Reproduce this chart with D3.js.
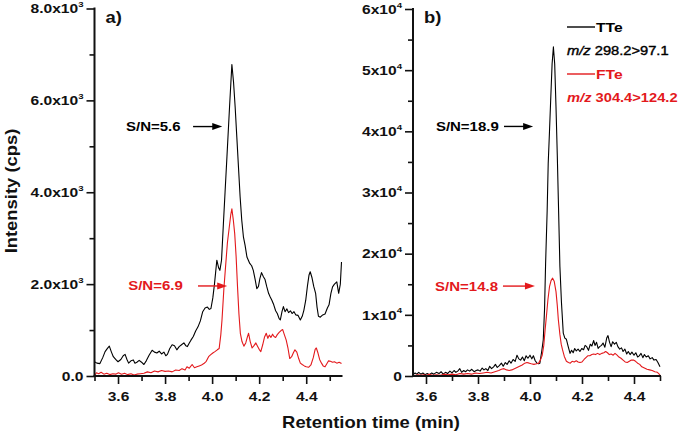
<!DOCTYPE html>
<html><head><meta charset="utf-8">
<script src="https://cdn.jsdelivr.net/npm/d3@7"></script>
<style>html,body{margin:0;padding:0;background:#fff;} svg{display:block;}</style>
</head><body><svg id="c" width="685" height="434"></svg>
<script>
// ---------- DATA ----------
// Panel a) intensity in 10^3 cps ; panel b) intensity in 10^4 cps ; time in min
const tteA = [[3.500,0.31],[3.510,0.28],[3.523,0.27],[3.535,0.40],[3.545,0.53],[3.555,0.60],[3.563,0.65],[3.572,0.52],[3.580,0.42],[3.590,0.36],[3.600,0.31],[3.612,0.36],[3.622,0.44],[3.630,0.47],[3.638,0.36],[3.645,0.28],[3.655,0.33],[3.665,0.35],[3.672,0.28],[3.680,0.30],[3.690,0.34],[3.700,0.30],[3.710,0.25],[3.720,0.33],[3.732,0.45],[3.745,0.56],[3.755,0.52],[3.765,0.50],[3.775,0.54],[3.785,0.48],[3.795,0.52],[3.803,0.44],[3.810,0.47],[3.820,0.60],[3.830,0.68],[3.840,0.66],[3.850,0.57],[3.860,0.64],[3.870,0.68],[3.880,0.72],[3.888,0.66],[3.895,0.64],[3.903,0.72],[3.910,0.78],[3.920,0.86],[3.930,0.98],[3.940,1.07],[3.950,1.20],[3.960,1.40],[3.970,1.48],[3.980,1.50],[3.988,1.45],[3.995,1.47],[4.003,1.70],[4.010,2.00],[4.020,2.52],[4.028,2.35],[4.033,2.30],[4.040,2.52],[4.048,3.32],[4.055,4.00],[4.063,4.77],[4.074,5.85],[4.084,6.78],[4.091,6.40],[4.098,5.85],[4.105,5.20],[4.112,4.55],[4.119,3.90],[4.126,3.39],[4.133,3.03],[4.140,2.85],[4.148,2.59],[4.154,2.52],[4.160,2.45],[4.168,2.40],[4.175,2.30],[4.183,2.10],[4.190,1.90],[4.197,1.95],[4.203,2.12],[4.210,2.25],[4.218,2.16],[4.225,2.10],[4.232,1.95],[4.240,1.80],[4.247,1.72],[4.254,1.65],[4.262,1.55],[4.270,1.42],[4.277,1.36],[4.285,1.25],[4.290,1.22],[4.297,1.40],[4.303,1.51],[4.310,1.40],[4.318,1.46],[4.325,1.38],[4.333,1.42],[4.340,1.36],[4.348,1.40],[4.356,1.33],[4.365,1.32],[4.375,1.22],[4.383,1.30],[4.390,1.43],[4.398,1.65],[4.405,1.95],[4.412,2.20],[4.417,2.27],[4.424,2.15],[4.432,1.95],[4.440,1.80],[4.446,1.50],[4.452,1.30],[4.460,1.28],[4.470,1.33],[4.480,1.35],[4.490,1.48],[4.497,1.55],[4.505,1.80],[4.512,1.94],[4.520,2.00],[4.530,2.05],[4.538,1.80],[4.545,2.00],[4.550,2.48]];

const fteA = [[3.500,0.00],[3.508,0.07],[3.518,0.05],[3.528,0.08],[3.540,0.04],[3.552,0.06],[3.565,0.03],[3.578,0.05],[3.590,0.04],[3.602,0.07],[3.615,0.04],[3.628,0.06],[3.640,0.03],[3.655,0.05],[3.668,0.02],[3.680,0.04],[3.695,0.05],[3.710,0.06],[3.725,0.09],[3.740,0.07],[3.755,0.11],[3.770,0.09],[3.785,0.12],[3.800,0.10],[3.815,0.11],[3.830,0.09],[3.845,0.13],[3.860,0.12],[3.872,0.16],[3.885,0.13],[3.893,0.20],[3.903,0.17],[3.915,0.25],[3.925,0.18],[3.935,0.20],[3.945,0.22],[3.955,0.24],[3.965,0.27],[3.975,0.32],[3.985,0.42],[3.993,0.46],[4.003,0.50],[4.012,0.53],[4.022,0.57],[4.030,0.60],[4.037,0.90],[4.042,1.22],[4.050,1.90],[4.057,2.37],[4.065,2.90],[4.072,3.20],[4.079,3.50],[4.084,3.64],[4.090,3.40],[4.096,3.10],[4.102,2.60],[4.108,1.94],[4.114,1.35],[4.120,0.93],[4.127,0.75],[4.135,0.65],[4.143,0.72],[4.150,0.85],[4.155,0.93],[4.162,0.75],[4.170,0.61],[4.178,0.66],[4.186,0.72],[4.193,0.65],[4.200,0.58],[4.207,0.53],[4.215,0.68],[4.223,0.85],[4.230,0.93],[4.237,0.82],[4.243,0.89],[4.250,0.84],[4.257,0.91],[4.263,0.86],[4.270,0.84],[4.277,0.90],[4.285,0.95],[4.293,0.99],[4.300,1.01],[4.307,0.90],[4.315,0.78],[4.322,0.62],[4.330,0.38],[4.338,0.42],[4.345,0.50],[4.352,0.57],[4.360,0.52],[4.368,0.38],[4.375,0.28],[4.383,0.25],[4.392,0.22],[4.400,0.20],[4.410,0.19],[4.420,0.24],[4.430,0.40],[4.438,0.58],[4.443,0.61],[4.450,0.50],[4.457,0.36],[4.465,0.28],[4.472,0.22],[4.480,0.20],[4.487,0.26],[4.495,0.33],[4.503,0.32],[4.512,0.30],[4.520,0.31],[4.530,0.28],[4.540,0.30],[4.550,0.27]];

const tteB = [[3.550,0.02],[3.558,0.05],[3.565,0.03],[3.572,0.06],[3.580,0.03],[3.588,0.05],[3.596,0.02],[3.605,0.04],[3.613,0.02],[3.622,0.05],[3.630,0.03],[3.640,0.06],[3.650,0.04],[3.658,0.07],[3.666,0.03],[3.675,0.06],[3.683,0.04],[3.692,0.08],[3.700,0.05],[3.708,0.09],[3.715,0.06],[3.722,0.08],[3.730,0.12],[3.737,0.06],[3.745,0.09],[3.752,0.07],[3.760,0.10],[3.768,0.08],[3.776,0.11],[3.785,0.07],[3.793,0.09],[3.800,0.10],[3.808,0.08],[3.816,0.13],[3.823,0.10],[3.830,0.12],[3.838,0.09],[3.845,0.16],[3.852,0.12],[3.860,0.15],[3.867,0.19],[3.874,0.14],[3.882,0.17],[3.890,0.21],[3.897,0.16],[3.905,0.22],[3.912,0.19],[3.920,0.25],[3.927,0.21],[3.935,0.27],[3.943,0.24],[3.950,0.34],[3.957,0.28],[3.964,0.26],[3.971,0.31],[3.978,0.25],[3.985,0.33],[3.992,0.29],[4.000,0.34],[4.007,0.28],[4.013,0.33],[4.020,0.25],[4.027,0.21],[4.033,0.20],[4.038,0.21],[4.045,0.40],[4.051,0.59],[4.056,1.10],[4.060,1.84],[4.066,2.70],[4.070,3.47],[4.075,4.00],[4.080,4.56],[4.085,5.10],[4.090,5.38],[4.095,5.10],[4.100,4.40],[4.105,3.60],[4.109,2.88],[4.115,1.79],[4.121,1.20],[4.128,0.70],[4.134,0.62],[4.140,0.60],[4.147,0.48],[4.154,0.37],[4.160,0.42],[4.166,0.38],[4.172,0.45],[4.178,0.41],[4.185,0.44],[4.192,0.40],[4.199,0.45],[4.206,0.43],[4.212,0.50],[4.218,0.48],[4.225,0.42],[4.232,0.52],[4.238,0.49],[4.245,0.58],[4.250,0.50],[4.256,0.55],[4.262,0.45],[4.268,0.48],[4.275,0.50],[4.281,0.54],[4.288,0.47],[4.295,0.62],[4.300,0.66],[4.306,0.55],[4.312,0.48],[4.318,0.56],[4.325,0.52],[4.332,0.55],[4.338,0.48],[4.345,0.44],[4.352,0.46],[4.358,0.40],[4.365,0.44],[4.372,0.36],[4.378,0.40],[4.385,0.35],[4.392,0.39],[4.400,0.34],[4.407,0.38],[4.414,0.31],[4.420,0.33],[4.427,0.37],[4.434,0.30],[4.440,0.35],[4.447,0.31],[4.455,0.33],[4.462,0.28],[4.470,0.30],[4.477,0.26],[4.485,0.27],[4.492,0.22],[4.500,0.15]];

const fteB = [[3.550,0.00],[3.560,0.01],[3.570,0.02],[3.580,0.01],[3.590,0.02],[3.600,0.01],[3.612,0.03],[3.625,0.01],[3.640,0.02],[3.655,0.01],[3.670,0.03],[3.685,0.02],[3.700,0.03],[3.715,0.02],[3.730,0.04],[3.745,0.03],[3.760,0.04],[3.775,0.03],[3.790,0.05],[3.805,0.04],[3.820,0.05],[3.835,0.06],[3.850,0.05],[3.865,0.07],[3.880,0.09],[3.890,0.11],[3.900,0.12],[3.910,0.10],[3.920,0.09],[3.930,0.10],[3.940,0.12],[3.950,0.14],[3.960,0.16],[3.970,0.18],[3.980,0.21],[3.988,0.22],[3.997,0.21],[4.005,0.20],[4.015,0.19],[4.025,0.20],[4.033,0.21],[4.040,0.26],[4.047,0.34],[4.053,0.50],[4.058,0.75],[4.063,0.97],[4.069,1.25],[4.075,1.46],[4.081,1.56],[4.087,1.60],[4.093,1.55],[4.100,1.38],[4.105,1.15],[4.109,0.92],[4.115,0.68],[4.120,0.52],[4.125,0.43],[4.132,0.32],[4.140,0.24],[4.148,0.22],[4.155,0.21],[4.162,0.24],[4.170,0.23],[4.178,0.25],[4.185,0.23],[4.192,0.22],[4.200,0.23],[4.208,0.27],[4.215,0.30],[4.222,0.33],[4.230,0.33],[4.238,0.35],[4.245,0.36],[4.252,0.35],[4.260,0.37],[4.268,0.35],[4.276,0.37],[4.284,0.38],[4.291,0.40],[4.298,0.38],[4.305,0.35],[4.312,0.36],[4.320,0.34],[4.327,0.37],[4.335,0.34],[4.342,0.31],[4.350,0.29],[4.358,0.26],[4.366,0.23],[4.374,0.22],[4.382,0.24],[4.390,0.26],[4.398,0.26],[4.406,0.24],[4.414,0.21],[4.422,0.19],[4.430,0.15],[4.440,0.13],[4.450,0.11],[4.460,0.10],[4.470,0.09],[4.480,0.07],[4.490,0.06],[4.495,0.04],[4.500,0.01]];

// tick values
const xMajorA = [3.6, 3.8, 4.0, 4.2, 4.4];
const xMinorA = [3.5, 3.7, 3.9, 4.1, 4.3, 4.5];
const yMajorA = [0, 2, 4, 6, 8];
const yMinorA = [1, 3, 5, 7];
const xMajorB = [3.6, 3.8, 4.0, 4.2, 4.4];
const xMinorB = [3.7, 3.9, 4.1, 4.3, 4.5];
const yMajorB = [0, 1, 2, 3, 4, 5, 6];
const yMinorB = [0.5, 1.5, 2.5, 3.5, 4.5, 5.5];

// annotations: label, text start time, arrow tail time, arrow tip time, level
const annA = [
  {label: "S/N=5.6", series: "TTe", tText: 3.634, t0: 3.919, t1: 4.043, v: 5.43},
  {label: "S/N=6.9", series: "FTe", tText: 3.643, t0: 3.940, t1: 4.064, v: 1.96}
];
const annB = [
  {label: "S/N=18.9", series: "TTe", tText: 3.638, t0: 3.900, t1: 4.012, v: 4.08},
  {label: "S/N=14.8", series: "FTe", tText: 3.635, t0: 3.896, t1: 4.019, v: 1.47}
];
const legendItems = [
  {name: "TTe", mz: "298.2>97.1"},
  {name: "FTe", mz: "304.4>124.2"}
];

// ---------- DRAW ----------
const FONT = "'Liberation Sans', Arial, Helvetica, sans-serif";
const COLORS = {TTe: "#000000", FTe: "#e3191c"};
const SX = 1.2;
const svg = d3.select("#c");

function panel(cfg) {
  const x = d3.scaleLinear().domain(cfg.xDomain).range(cfg.xRange);
  const y = d3.scaleLinear().domain(cfg.yDomain).range(cfg.yRange);
  const g = svg.append("g");

  // traces
  const line = d3.line().x(d => x(d[0])).y(d => y(d[1]));
  g.append("path").datum(cfg.black).attr("d", line)
    .attr("fill", "none").attr("stroke", COLORS.TTe).attr("stroke-width", 1.1).attr("stroke-linejoin", "round");
  g.append("path").datum(cfg.red).attr("d", line)
    .attr("fill", "none").attr("stroke", COLORS.FTe).attr("stroke-width", 1.1).attr("stroke-linejoin", "round");

  const y0 = cfg.yRange[0], x0 = cfg.xRange[0];
  // minor ticks
  g.append("g").attr("transform", `translate(0,${y0})`)
    .call(d3.axisBottom(x).tickValues(cfg.xMinor).tickSize(5).tickSizeOuter(0).tickFormat(""))
    .call(s => s.select(".domain").remove());
  g.append("g").attr("transform", `translate(${x0},0)`)
    .call(d3.axisLeft(y).tickValues(cfg.yMinor).tickSize(5).tickSizeOuter(0).tickFormat(""))
    .call(s => s.select(".domain").remove());
  // major x
  const gx = g.append("g").attr("transform", `translate(0,${y0})`)
    .call(d3.axisBottom(x).tickValues(cfg.xMajor).tickSize(8).tickSizeOuter(0).tickPadding(8).tickFormat(d3.format(".1f")));
  gx.select(".domain").remove();
  gx.selectAll("text").attr("font-family", FONT).attr("font-weight", "bold").attr("font-size", 13)
    .attr("fill", "#111").attr("transform", `scale(${SX},1)`);
  // major y
  const gy = g.append("g").attr("transform", `translate(${x0},0)`)
    .call(d3.axisLeft(y).tickValues(cfg.yMajor).tickSize(8).tickSizeOuter(0).tickPadding(3));
  gy.select(".domain").remove();
  gy.selectAll("text").each(function(d) {
    const t = d3.select(this);
    t.text(null).attr("x", -11 / SX).attr("transform", `scale(${SX},1)`)
      .attr("font-family", FONT).attr("font-weight", "bold").attr("font-size", 13).attr("fill", "#111");
    if (d === 0) { t.text(cfg.zeroLabel); return; }
    t.append("tspan").text(cfg.fmt(d) + "x10");
    t.append("tspan").attr("dy", -6).attr("font-size", 8).text(cfg.exp);
  });
  g.selectAll(".tick line").attr("stroke", "#111").attr("stroke-width", 1.6);

  // axis lines
  g.append("line").attr("x1", x0).attr("x2", x0).attr("y1", cfg.yRange[1] - 1).attr("y2", y0 + 1)
    .attr("stroke", "#111").attr("stroke-width", 2);
  g.append("line").attr("x1", x0 - 1).attr("x2", cfg.xRange[1] + 1).attr("y1", y0).attr("y2", y0)
    .attr("stroke", "#111").attr("stroke-width", 2);

  // panel tag
  g.append("text").attr("transform", `translate(${x0 + 11},${cfg.yRange[1] + 14}) scale(1.15,1)`)
    .attr("font-family", FONT).attr("font-weight", "bold").attr("font-size", 16).attr("fill", "#111").text(cfg.tag);

  // annotations
  cfg.ann.forEach(a => {
    const c = COLORS[a.series];
    const yy = y(a.v), xa = x(a.t0), xb = x(a.t1);
    g.append("text").attr("transform", `translate(${x(a.tText)},${yy + 4.5}) scale(${SX},1)`)
      .attr("font-family", FONT).attr("font-weight", "bold").attr("font-size", 12.5).attr("fill", c).text(a.label);
    g.append("line").attr("x1", xa).attr("x2", xb - 6).attr("y1", yy).attr("y2", yy)
      .attr("stroke", c).attr("stroke-width", 1.4);
    g.append("path").attr("d", `M${xb},${yy}L${xb - 10},${yy - 3.5}L${xb - 10},${yy + 3.5}Z`).attr("fill", c);
  });
  return {x, y, g};
}

const pA = panel({
  xDomain: [3.5, 4.55], xRange: [94.5, 341.5], yDomain: [0, 8], yRange: [376, 8.5],
  black: tteA, red: fteA, xMajor: xMajorA, xMinor: xMinorA, yMajor: yMajorA, yMinor: yMinorA,
  zeroLabel: "0.0", fmt: d3.format(".1f"), exp: "3", tag: "a)", ann: annA
});
const pB = panel({
  xDomain: [3.55, 4.5], xRange: [413, 660], yDomain: [0, 6], yRange: [376, 9],
  black: tteB, red: fteB, xMajor: xMajorB, xMinor: xMinorB, yMajor: yMajorB, yMinor: yMinorB,
  zeroLabel: "0", fmt: d3.format("d"), exp: "4", tag: "b)", ann: annB
});

// legend (panel b)
const lg = svg.append("g").attr("transform", "translate(567,27)");
legendItems.forEach((it, i) => {
  const c = COLORS[it.name];
  const yy = i * 47;
  lg.append("line").attr("x1", 0).attr("x2", 28).attr("y1", yy).attr("y2", yy).attr("stroke", c).attr("stroke-width", 1.4);
  lg.append("text").attr("transform", `translate(29,${yy + 5}) scale(${SX},1)`)
    .attr("font-family", FONT).attr("font-weight", "bold").attr("font-size", 13).attr("fill", c).text(it.name);
  const t = lg.append("text").attr("transform", `translate(0,${yy + 28}) scale(1.13,1)`)
    .attr("font-family", FONT).attr("font-size", 13).attr("fill", c)
    .attr("font-weight", i === 0 ? "normal" : "bold")
    .attr("stroke", i === 0 ? c : "none").attr("stroke-width", i === 0 ? 0.4 : 0);
  t.append("tspan").attr("font-style", "italic").text("m/z");
  t.append("tspan").text(" " + it.mz);
});

// axis titles
svg.append("text").attr("transform", "translate(371,428) scale(1.15,1)").attr("text-anchor", "middle")
  .attr("font-family", FONT).attr("font-weight", "bold").attr("font-size", 16).attr("fill", "#111")
  .text("Retention time (min)");
svg.append("text").attr("transform", "translate(17,191) rotate(-90) scale(1.15,1)").attr("text-anchor", "middle")
  .attr("font-family", FONT).attr("font-weight", "bold").attr("font-size", 16).attr("fill", "#111")
  .text("Intensity (cps)");
</script></body></html>
